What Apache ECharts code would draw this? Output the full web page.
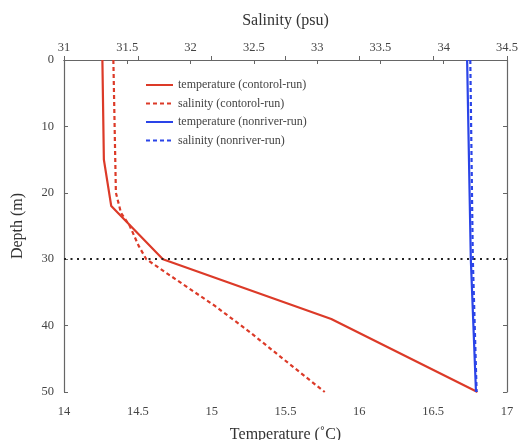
<!DOCTYPE html>
<html>
<head>
<meta charset="utf-8">
<script src="https://cdn.jsdelivr.net/npm/echarts@6/dist/echarts.min.js"></script>
<style>html,body{margin:0;padding:0;background:#fff;}#c{width:518px;height:440px;}</style>
</head>
<body>
<div id="c"></div>
<script>
// Control run, temperature (°C) vs depth (m)
var ctrlTempDepth = [0, 15, 22, 30, 39, 50];
var ctrlTemp      = [14.26, 14.27, 14.32, 14.67, 15.81, 16.80];
// Control run, salinity (psu) vs depth (m)
var ctrlSalDepth = [0, 10, 20, 23, 25, 28, 30, 33, 37, 41, 45, 50];
var ctrlSal      = [31.39, 31.40, 31.41, 31.45, 31.52, 31.59, 31.65, 31.88, 32.19, 32.47, 32.73, 33.06];
// Nonriver run
var nrTempDepth = [0, 30, 50];
var nrTemp      = [16.73, 16.755, 16.79];
var nrSalDepth  = [0, 30, 50];
var nrSal       = [34.21, 34.23, 34.26];
var refDepth = 30;

var seriesNames = ['temperature (contorol-run)', 'salinity (contorol-run)', 'temperature (nonriver-run)', 'salinity (nonriver-run)'];

function pairs(xs, ds) { return xs.map(function (v, i) { return [v, ds[i]]; }); }

var RED = '#dc3a28', BLUE = '#2a44e8';
var FONT = 'Liberation Serif';
var axisLine = { show: true, lineStyle: { color: '#666', width: 1.2 } };
var tick = { show: true, inside: true, length: 4, lineStyle: { color: '#666' } };
var lbl = { fontFamily: FONT, fontSize: 12.5, color: '#444' };
var nameStyle = { fontFamily: FONT, fontSize: 16, color: '#333' };

var chart = echarts.init(document.getElementById('c'), null, { renderer: 'canvas' });
chart.setOption({
  animation: false,
  grid: { left: 64, right: 11, top: 60, bottom: 48, containLabel: false, outerBoundsMode: 'none' },
  legend: {
    orient: 'vertical', left: 140, top: 74, itemGap: 6.5,
    itemWidth: 27, itemHeight: 13,
    itemStyle: { opacity: 0 },
    textStyle: { fontFamily: FONT, fontSize: 12, color: '#444' },
    data: seriesNames
  },
  xAxis: [
    { type: 'value', position: 'bottom', min: 14, max: 17, interval: 0.5,
      name: 'Temperature (˚C)', nameLocation: 'middle', nameGap: 35, nameTextStyle: nameStyle,
      axisLine: axisLine, axisTick: tick, splitLine: { show: false },
      axisLabel: Object.assign({ margin: 13 }, lbl) },
    { type: 'value', position: 'top', min: 31, max: 34.5, interval: 0.5,
      name: 'Salinity (psu)', nameLocation: 'middle', nameGap: 31, nameTextStyle: nameStyle,
      axisLine: axisLine, axisTick: tick, splitLine: { show: false },
      axisLabel: Object.assign({ margin: 6 }, lbl) }
  ],
  yAxis: [
    { type: 'value', position: 'left', min: 0, max: 50, interval: 10, inverse: true,
      name: 'Depth (m)', nameLocation: 'middle', nameGap: 38, nameTextStyle: nameStyle,
      axisLine: axisLine, axisTick: tick, splitLine: { show: false },
      axisLabel: Object.assign({ margin: 10 }, lbl) },
    { type: 'value', position: 'right', min: 0, max: 50, interval: 10, inverse: true,
      axisLine: axisLine, axisTick: tick, splitLine: { show: false },
      axisLabel: { show: false } }
  ],
  series: [
    { name: seriesNames[0], type: 'line', xAxisIndex: 0, yAxisIndex: 0, symbol: 'none',
      lineStyle: { color: RED, width: 2.2 }, itemStyle: { color: RED },
      data: pairs(ctrlTemp, ctrlTempDepth), z: 3,
      markLine: { silent: true, symbol: 'none', label: { show: false },
        lineStyle: { color: '#222', type: [2, 4.5], width: 2.2 },
        data: [{ yAxis: refDepth }] } },
    { name: seriesNames[1], type: 'line', xAxisIndex: 1, yAxisIndex: 0, symbol: 'none',
      lineStyle: { color: RED, width: 2.2, type: [4, 3] }, itemStyle: { color: RED },
      data: pairs(ctrlSal, ctrlSalDepth), z: 3 },
    { name: seriesNames[2], type: 'line', xAxisIndex: 0, yAxisIndex: 0, symbol: 'none',
      lineStyle: { color: BLUE, width: 2.2 }, itemStyle: { color: BLUE },
      data: pairs(nrTemp, nrTempDepth), z: 3 },
    { name: seriesNames[3], type: 'line', xAxisIndex: 1, yAxisIndex: 0, symbol: 'none',
      lineStyle: { color: BLUE, width: 2.2, type: [4, 3] }, itemStyle: { color: BLUE },
      data: pairs(nrSal, nrSalDepth), z: 3 }
  ]
});
</script>
</body>
</html>
